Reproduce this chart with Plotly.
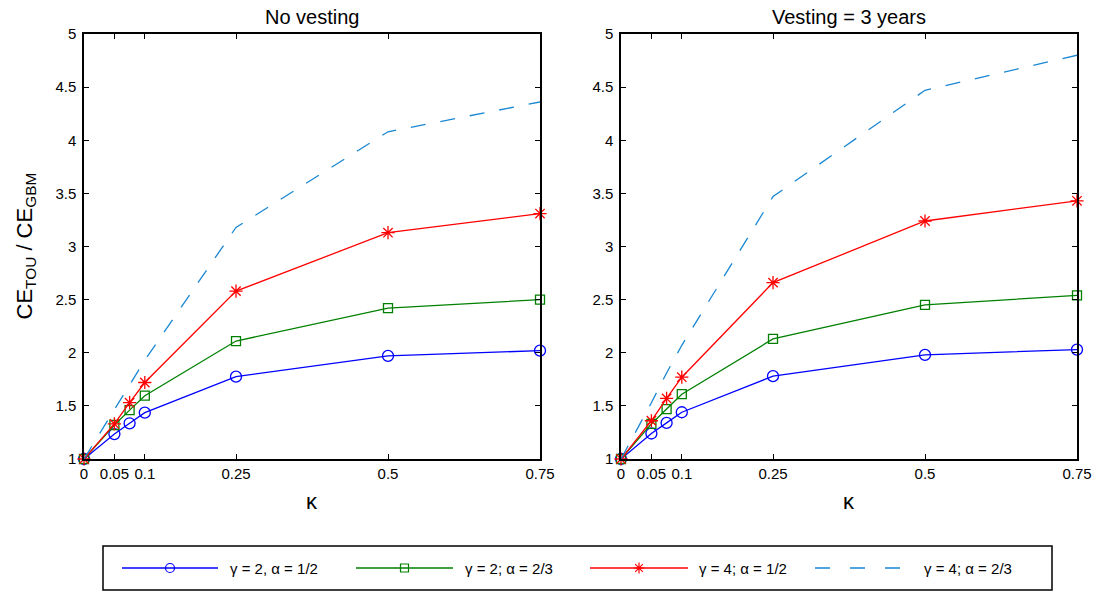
import plotly.graph_objects as go

W, H = 1099, 592

kappa = [0, 0.05, 0.075, 0.1, 0.25, 0.5, 0.75]

# No vesting
nv_g2_a12 = [1, 1.235, 1.336, 1.436, 1.775, 1.97, 2.02]
nv_g2_a23 = [1, 1.32, 1.46, 1.596, 2.11, 2.42, 2.50]
nv_g4_a12 = [1, 1.33, 1.53, 1.72, 2.58, 3.13, 3.31]
nv_g4_a23 = [1, 1.47, 1.70, 1.93, 3.18, 4.08, 4.36]

# Vesting = 3 years
v3_g2_a12 = [1, 1.24, 1.34, 1.44, 1.78, 1.98, 2.03]
v3_g2_a23 = [1, 1.33, 1.47, 1.61, 2.13, 2.45, 2.54]
v3_g4_a12 = [1, 1.36, 1.57, 1.77, 2.66, 3.24, 3.43]
v3_g4_a23 = [1, 1.53, 1.81, 2.07, 3.47, 4.47, 4.80]

series_names = ["γ = 2, α = 1/2", "γ = 2; α = 2/3", "γ = 4; α = 1/2", "γ = 4; α = 2/3"]
panel_titles = ["No vesting", "Vesting = 3 years"]
x_ticks = [0, 0.05, 0.1, 0.25, 0.5, 0.75]
x_tick_text = ["0", "0.05", "0.1", "0.25", "0.5", "0.75"]
y_ticks = [1, 1.5, 2, 2.5, 3, 3.5, 4, 4.5, 5]
y_tick_text = ["1", "1.5", "2", "2.5", "3", "3.5", "4", "4.5", "5"]

FONT = "Liberation Sans, Arial, Helvetica, sans-serif"
colors = ["rgb(0,0,255)", "rgb(0,128,0)", "rgb(255,0,0)", "rgb(25,135,210)"]
symbols = ["circle-open", "square-open", "asterisk-open", None]
msizes = [11, 9, 11, 0]
dash = "15px,15px"

fig = go.Figure()

panels = [
    ("x", "y", [nv_g2_a12, nv_g2_a23, nv_g4_a12, nv_g4_a23]),
    ("x2", "y2", [v3_g2_a12, v3_g2_a23, v3_g4_a12, v3_g4_a23]),
]

for xa, ya, data in panels:
    for i, vals in enumerate(data):
        if symbols[i] is None:
            fig.add_trace(go.Scatter(
                x=kappa, y=vals, mode="lines", xaxis=xa, yaxis=ya,
                line=dict(color=colors[i], width=1.3, dash=dash),
                showlegend=False, cliponaxis=False, hoverinfo="skip"))
        else:
            fig.add_trace(go.Scatter(
                x=kappa, y=vals, mode="lines+markers", xaxis=xa, yaxis=ya,
                line=dict(color=colors[i], width=1.3),
                marker=dict(symbol=symbols[i], size=msizes[i], color=colors[i],
                            line=dict(color=colors[i], width=1.3)),
                showlegend=False, cliponaxis=False, hoverinfo="skip"))

def px(v):
    return v / W

def py(v):
    return 1 - v / H

y_dom = [py(459), py(34)]
axis_common = dict(
    showline=True, linecolor="black", linewidth=1.5, mirror="ticks",
    ticks="inside", ticklen=5, tickwidth=1, tickcolor="black",
    showgrid=False, zeroline=False, automargin=False,
    tickfont=dict(family=FONT, size=15, color="black"),
)

fig.update_layout(
    template="none",
    xaxis=dict(domain=[px(84), px(540)], range=[0, 0.75], tickvals=x_ticks,
               ticktext=x_tick_text, anchor="y", **axis_common),
    yaxis=dict(domain=y_dom, range=[1, 5], tickvals=y_ticks, ticktext=y_tick_text,
               anchor="x", ticklabelstandoff=3, **axis_common),
    xaxis2=dict(domain=[px(621), px(1077)], range=[0, 0.75], tickvals=x_ticks,
                ticktext=x_tick_text, anchor="y2", **axis_common),
    yaxis2=dict(domain=y_dom, range=[1, 5], tickvals=y_ticks, ticktext=y_tick_text,
                anchor="x2", ticklabelstandoff=3, **axis_common),
    xaxis3=dict(domain=[0, 1], range=[0, W], visible=False, fixedrange=True,
                anchor="y3", automargin=False),
    yaxis3=dict(domain=[0, 1], range=[H, 0], visible=False, fixedrange=True,
                anchor="x3", automargin=False),
    width=W, height=H,
    margin=dict(l=0, r=0, t=0, b=0, pad=0, autoexpand=False),
    paper_bgcolor="white", plot_bgcolor="rgba(0,0,0,0)",
    showlegend=False,
    font=dict(family=FONT, color="black"),
)

# Legend samples (drawn on a hidden pixel-coordinate axis)
leg_y = 568
leg_items = [(122, 218), (356, 453), (590, 688), (815, 912)]
leg_text_x = [228, 463, 697, 922]
for i, (a, b) in enumerate(leg_items):
    if symbols[i] is None:
        fig.add_trace(go.Scatter(
            x=[a, b], y=[leg_y, leg_y], mode="lines", xaxis="x3", yaxis="y3",
            line=dict(color=colors[i], width=1.3, dash="15px,20px"),
            showlegend=False, hoverinfo="skip", cliponaxis=False))
    else:
        fig.add_trace(go.Scatter(
            x=[a, b], y=[leg_y, leg_y], mode="lines", xaxis="x3", yaxis="y3",
            line=dict(color=colors[i], width=1.3),
            showlegend=False, hoverinfo="skip", cliponaxis=False))
        fig.add_trace(go.Scatter(
            x=[(a + b) / 2], y=[leg_y], mode="markers", xaxis="x3", yaxis="y3",
            marker=dict(symbol=symbols[i], size=max(msizes[i] - 2, 8), color=colors[i],
                        line=dict(color=colors[i], width=1.2)),
            showlegend=False, hoverinfo="skip", cliponaxis=False))

annotations = []
for i, name in enumerate(series_names):
    annotations.append(dict(
        x=px(leg_text_x[i]), y=py(leg_y), xref="paper", yref="paper",
        text=name, showarrow=False, xanchor="left", yanchor="middle",
        font=dict(family=FONT, size=15, color="black")))

for cx, t in zip([312, 849], panel_titles):
    annotations.append(dict(
        x=px(cx), y=py(17), xref="paper", yref="paper", text=t, showarrow=False,
        xanchor="center", yanchor="middle",
        font=dict(family=FONT, size=20, color="black")))
    annotations.append(dict(
        x=px(cx), y=py(501), xref="paper", yref="paper", text="κ", showarrow=False,
        xanchor="center", yanchor="middle",
        font=dict(family=FONT, size=22, color="black")))

annotations.append(dict(
    x=px(26), y=py(246.5), xref="paper", yref="paper",
    text="CE<sub>TOU</sub> / CE<sub>GBM</sub>", showarrow=False, textangle=-90,
    xanchor="center", yanchor="middle",
    font=dict(family=FONT, size=22, color="black")))

fig.update_layout(
    annotations=annotations,
    shapes=[dict(type="rect", xref="paper", yref="paper",
                 x0=px(103), x1=px(1052), y0=py(590), y1=py(546),
                 line=dict(color="black", width=1.5), fillcolor="rgba(0,0,0,0)")],
)

fig.write_html("out.html")
